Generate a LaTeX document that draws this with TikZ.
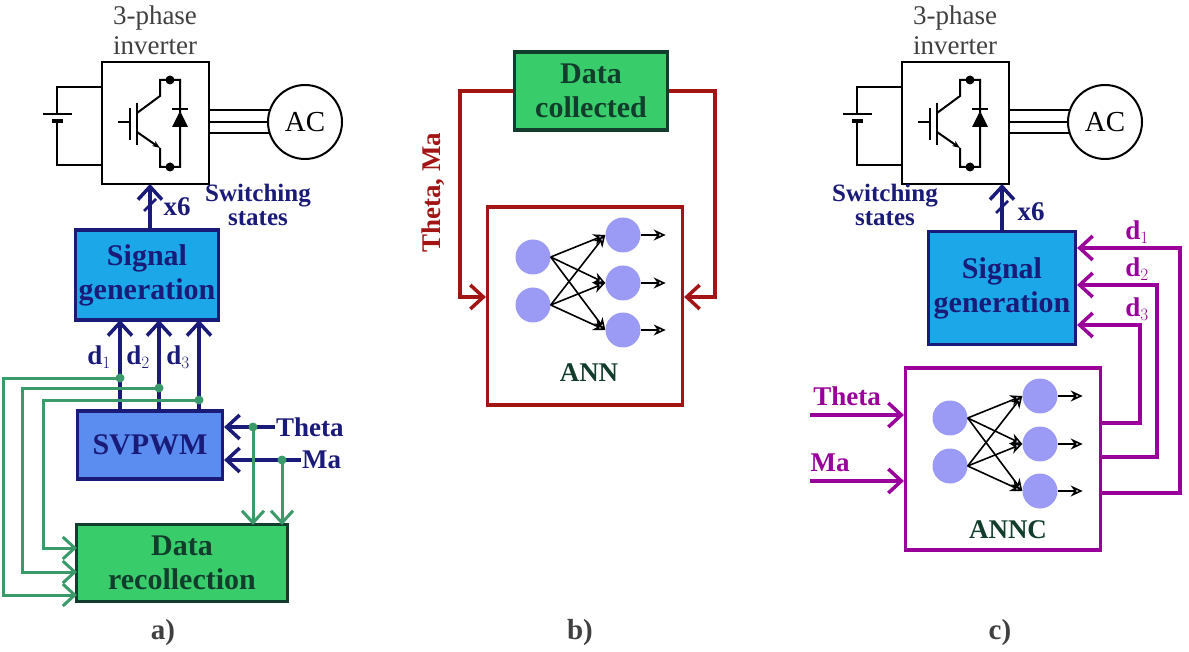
\documentclass[tikz,border=0pt]{standalone}
\usepackage{fontspec}
\setmainfont{Liberation Serif}
\usetikzlibrary{arrows.meta,positioning,calc}
\definecolor{navyc}{HTML}{1A1A78}
\definecolor{sigc}{HTML}{1CA8E8}
\definecolor{svc}{HTML}{5B8DF0}
\definecolor{datac}{HTML}{38CC6A}
\definecolor{dgreen}{HTML}{123D2C}
\definecolor{lgreen}{HTML}{3A9A6A}
\definecolor{redc}{HTML}{A31515}
\definecolor{magc}{HTML}{990099}
\definecolor{neuc}{HTML}{9B9BF5}
\tikzset{
  blk/.style={draw, line width=3.2pt, align=center, font=\fontsize{30}{34}\selectfont\bfseries},
  neuron/.style={circle, fill=neuc, minimum size=35pt, inner sep=0pt},
  syn/.style={-{Stealth[open,length=12pt,width=11pt]}, line width=1.6pt},
  sig/.style={line width=3.5pt, -{Straight Barb[length=13pt,width=24pt,line width=3.5pt]}},
  gsig/.style={line width=3pt, lgreen, -{Straight Barb[length=12pt,width=22pt,line width=3pt]}},
  lbl/.style={font=\fontsize{27}{29}\selectfont\bfseries},
  wire/.style={line width=2pt},
}
% inverter with battery and motor, origin at box top-left
\newcommand\inverter[1]{%
  \begin{scope}[shift={(#1)}]
    \node[font=\fontsize{27}{30}\selectfont, text=black!75, align=center] at (53,-32) {3-phase\\inverter};
    \draw[wire] (0,0) rectangle (107,122);
    \draw[wire] (0,25) -- (-45,25) -- (-45,52);
    \draw[wire] (0,103) -- (-45,103) -- (-45,59);
    \draw[line width=2.5pt] (-59,52) -- (-30,52);
    \draw[line width=3.5pt] (-50,59) -- (-39,59);
    \draw[wire] (16,60) -- (28,60);
    \draw[line width=2.8pt] (28,46) -- (28,78);
    \draw[line width=2.8pt] (35,41) -- (35,83);
    \draw[wire] (35,51) -- (58,34) -- (58,18) -- (78,18) -- (78,105) -- (58,105) -- (58,86);
    \draw[wire,-{Stealth[length=8pt]}] (35,70) -- (58,86);
    \fill (68,18) circle (4.5pt) (68,105) circle (4.5pt);
    \fill (70,65) -- (86,65) -- (78,49) -- cycle;
    \draw[wire] (70,47) -- (86,47);
    \node[circle, draw, line width=2pt, minimum size=74pt, font=\fontsize{29}{30}\selectfont] (ac) at (203,60) {AC};
    \foreach \y in {48,60,71} \draw[wire] (107,\y) -- ($(ac.west)+(2,\y-60)$);
  \end{scope}}
% small neural network
\newcommand\annet[1]{%
  \begin{scope}[shift={(#1)}]
    \foreach \i/\y in {1/0,2/48} \node[neuron] (in\i) at (0,\y) {};
    \foreach \j/\y in {1/-22,2/26,3/73} {
      \node[neuron] (out\j) at (90,\y) {};
      \draw[syn] (out\j.east) -- ++(25,0);
    }
    \foreach \i in {1,2} \foreach \j in {1,2,3} \draw[syn] (in\i.east) -- (out\j.west);
  \end{scope}}

\begin{document}
\begin{tikzpicture}[x=1pt,y=-1pt]
\useasboundingbox (0,0) rectangle (1189,652);

% ---------- a) ----------
\inverter{102,62}
\node[blk, draw=navyc, fill=sigc, text=navyc, minimum width=143pt, minimum height=90pt] (sg) at (147,275) {Signal\\generation};
\node[blk, draw=navyc, fill=svc, text=navyc, minimum width=145pt, minimum height=68pt] (sv) at (150,445) {SVPWM};
\node[blk, draw=dgreen, fill=datac, text=dgreen, minimum width=211pt, minimum height=77pt] (dr) at (182,563) {Data\\recollection};
\coordinate (invb) at (150,184);
\draw[sig, navyc] (sg.north -| invb) -- (invb);
\draw[navyc, line width=2.5pt] (144,211) -- (156,199);
\node[lbl, text=navyc] at (177,207) {x6};
\node[lbl, text=navyc, align=center, font=\fontsize{25}{24}\selectfont\bfseries] at (258,205) {Switching\\states};
\foreach \x/\n/\y/\gx in {120/1/378/3, 159/2/388/22, 199/3/400/43} {
  \draw[sig, navyc] (\x,411) -- (\x,320);
  \node[lbl, text=navyc] at (\x-21,357) {d$_{\n}$};
  \fill[lgreen] (\x,\y) circle (4.5pt);
}
\draw[gsig] (120,378) -- (3,378) -- (3,595) -- (77,595);
\draw[gsig] (159,388) -- (22,388) -- (22,572) -- (77,572);
\draw[gsig] (199,400) -- (43,400) -- (43,548) -- (77,548);
\coordinate (th) at (275,427);
\coordinate (ma) at (301,460);
\draw[sig, navyc] (th) -- (sv.east |- th);
\draw[sig, navyc] (ma) -- (sv.east |- ma);
\node[lbl, text=navyc, anchor=west, inner sep=1pt] at (th) {Theta};
\node[lbl, text=navyc, anchor=west, inner sep=1pt] at (ma) {Ma};
\fill[lgreen] (253,427) circle (4.5pt) (282,460) circle (4.5pt);
\draw[gsig] (253,427) -- (253,525);
\draw[gsig] (282,460) -- (282,525);
\node[font=\fontsize{29}{30}\selectfont\bfseries, text=black!75] at (163,633) {a)};

% ---------- b) ----------
\node[blk, draw=dgreen, fill=datac, text=dgreen, minimum width=153pt, minimum height=78pt] (dc) at (591,91) {Data\\collected};
\node[draw=redc, line width=3.2pt, minimum width=195pt, minimum height=198pt] (ann) at (585,306) {};
\draw[sig, redc] (dc.west) -- (460,91) -- (460,297) -- (ann.west |- 0,297);
\draw[sig, redc] (dc.east) -- (715,91) -- (715,297) -- (ann.east |- 0,297);
\node[lbl, text=redc, rotate=90] at (433,193) {Theta, Ma};
\annet{533,257}
\node[lbl, text=dgreen] at (589,373) {ANN};
\node[font=\fontsize{29}{30}\selectfont\bfseries, text=black!75] at (580,633) {b)};

% ---------- c) ----------
\inverter{902,62}
\node[blk, draw=navyc, fill=sigc, text=navyc, minimum width=147pt, minimum height=113pt] (sg2) at (1002,288) {Signal\\generation};
\node[draw=magc, line width=3.2pt, minimum width=195pt, minimum height=182pt] (annc) at (1003,459) {};
\coordinate (invb2) at (1002,184);
\draw[sig, navyc] (sg2.north -| invb2) -- (invb2);
\draw[navyc, line width=2.5pt] (996,213) -- (1008,201);
\node[lbl, text=navyc] at (1031,212) {x6};
\node[lbl, text=navyc, align=center, font=\fontsize{25}{24}\selectfont\bfseries] at (885,205) {Switching\\states};
\foreach \n/\yi/\xo/\yo in {1/248/1180/493, 2/285/1157/457, 3/325/1140/423} {
  \draw[sig, magc] (annc.east |- 0,\yo) -- (\xo,\yo) -- (\xo,\yi) -- (sg2.east |- 0,\yi);
  \node[lbl, text=magc] at (1137,\yi-16) {d$_{\n}$};
}
\draw[sig, magc] (810,415) -- (annc.west |- 0,415);
\draw[sig, magc] (810,481) -- (annc.west |- 0,481);
\node[lbl, text=magc] at (847,396) {Theta};
\node[lbl, text=magc] at (830,463) {Ma};
\annet{950,418}
\node[lbl, text=dgreen] at (1008,530) {ANNC};
\node[font=\fontsize{29}{30}\selectfont\bfseries, text=black!75] at (1000,633) {c)};
\end{tikzpicture}
\end{document}
